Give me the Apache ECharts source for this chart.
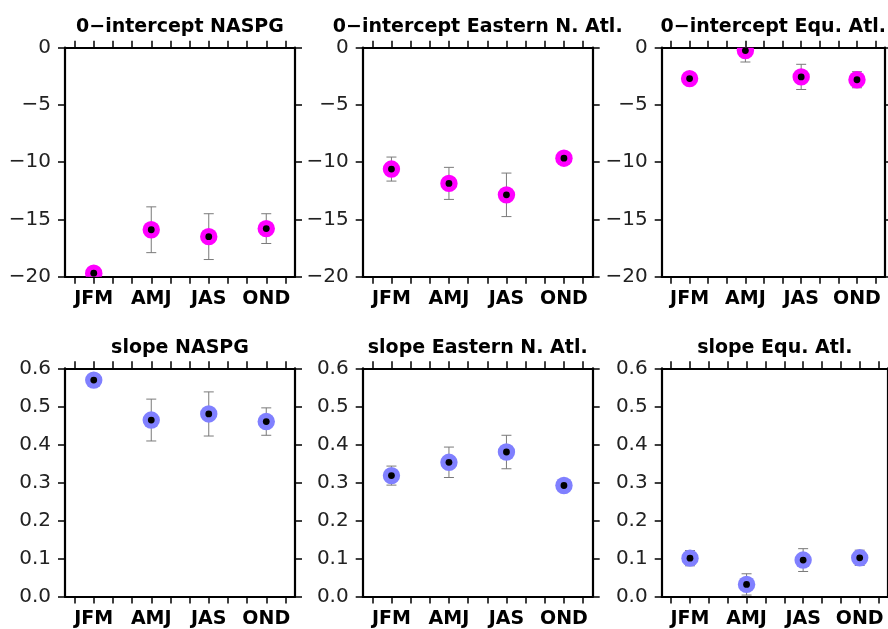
<!DOCTYPE html>
<html lang="en">
<head>
<meta charset="utf-8">
<title>0-intercept / slope by season</title>
<script src="https://cdn.jsdelivr.net/npm/echarts@6/dist/echarts.min.js"></script>
<style>html,body{margin:0;padding:0;background:#fff;}</style>
</head>
<body>
<div id="chart" style="width:888px;height:629px;"></div>
<script>
// 12 month slots on the x axis, each season sits on its middle month
var months = ['Jan','Feb','Mar','Apr','May','Jun','Jul','Aug','Sep','Oct','Nov','Dec'];
var seasons = ['JFM','AMJ','JAS','OND'];
var seasonSlot = [1, 4, 7, 10];

var titles = ['0\u2212intercept NASPG', '0\u2212intercept Eastern N. Atl.', '0\u2212intercept Equ. Atl.',
              'slope NASPG', 'slope Eastern N. Atl.', 'slope Equ. Atl.'];

// intercepts (value, half error bar)
var icptNaspg    = [-19.7, -15.9, -16.5, -15.8];
var icptNaspgErr = [0.3, 2.0, 2.0, 1.3];
var icptEast     = [-10.6, -11.85, -12.85, -9.65];
var icptEastErr  = [1.05, 1.4, 1.9, 0.4];
var icptEqu      = [-2.7, -0.25, -2.55, -2.8];
var icptEquErr   = [0.5, 1.0, 1.1, 0.7];

// slopes
var slopeNaspg    = [0.569, 0.464, 0.480, 0.460];
var slopeNaspgErr = [0.01, 0.055, 0.058, 0.036];
var slopeEast     = [0.318, 0.353, 0.380, 0.292];
var slopeEastErr  = [0.025, 0.040, 0.044, 0.01];
var slopeEqu      = [0.101, 0.032, 0.096, 0.102];
var slopeEquErr   = [0.02, 0.028, 0.030, 0.02];

var values = [icptNaspg, icptEast, icptEqu, slopeNaspg, slopeEast, slopeEqu];
var errors = [icptNaspgErr, icptEastErr, icptEquErr, slopeNaspgErr, slopeEastErr, slopeEquErr];

var gridLeft = [65, 362.7, 661.7];
var gridTop = [47.7, 368.3];
var gridH = [229, 228.3];
var gridW = 230;

var FONT = 'DejaVu Sans';

function renderDot(color) {
  return function (params, api) {
    var x = api.value(0), y = api.value(1), e = api.value(2);
    var c = api.coord([x, y]);
    var hi = api.coord([x, y + e]);
    var lo = api.coord([x, y - e]);
    var cap = 5;
    var bar = {stroke: '#7a7a7a', lineWidth: 1};
    return {
      type: 'group',
      children: [
        {type: 'line', shape: {x1: c[0], y1: hi[1], x2: c[0], y2: lo[1]}, style: bar},
        {type: 'line', shape: {x1: c[0] - cap, y1: hi[1], x2: c[0] + cap, y2: hi[1]}, style: bar},
        {type: 'line', shape: {x1: c[0] - cap, y1: lo[1], x2: c[0] + cap, y2: lo[1]}, style: bar},
        {type: 'circle', shape: {cx: c[0], cy: c[1], r: 8.7}, style: {fill: color}},
        {type: 'circle', shape: {cx: c[0], cy: c[1], r: 3.4}, style: {fill: '#000'}}
      ]
    };
  };
}

var grids = [], xAxes = [], yAxes = [], series = [];
var lineSt = {color: '#000', width: 2.2};
var tickSt = {color: '#000', width: 1.5};

for (var p = 0; p < 6; p++) {
  var row = Math.floor(p / 3), col = p % 3;
  grids.push({left: gridLeft[col], top: gridTop[row], width: gridW, height: gridH[row]});

  // bottom axis with season labels
  xAxes.push({
    type: 'category', gridIndex: p, data: months, position: 'bottom', boundaryGap: true,
    axisLine: {show: true, onZero: false, lineStyle: lineSt},
    axisTick: {show: true, alignWithLabel: true, interval: 0, length: 7, lineStyle: tickSt},
    axisLabel: {
      interval: 0, margin: 13, color: '#000', fontFamily: FONT, fontWeight: 'bold', fontSize: 19,
      formatter: function (v, idx) {
        var k = seasonSlot.indexOf(idx);
        return k >= 0 ? seasons[k] : '';
      }
    },
    splitLine: {show: false}
  });
  // mirrored top axis carries the panel title
  xAxes.push({
    type: 'category', gridIndex: p, data: months, position: 'top', boundaryGap: true,
    axisLine: {show: true, onZero: false, lineStyle: lineSt},
    axisTick: {show: true, alignWithLabel: true, interval: 0, length: 7, lineStyle: tickSt},
    axisLabel: {show: false},
    splitLine: {show: false},
    name: titles[p], nameLocation: 'middle', nameGap: 11,
    nameTextStyle: {color: '#000', fontFamily: FONT, fontWeight: 'bold', fontSize: 19}
  });

  var yBase = row === 0
    ? {min: -20, max: 0, interval: 5, fmt: function (v) { return String(v).replace('-', '\u2212'); }}
    : {min: 0, max: 0.6, interval: 0.1, fmt: function (v) { return v.toFixed(1); }};

  yAxes.push({
    type: 'value', gridIndex: p, position: 'left', min: yBase.min, max: yBase.max, interval: yBase.interval,
    axisLine: {show: true, onZero: false, lineStyle: lineSt},
    axisTick: {show: true, length: 7, lineStyle: tickSt},
    axisLabel: {margin: 14, color: '#222', fontFamily: FONT, fontSize: 20, formatter: yBase.fmt},
    splitLine: {show: false}
  });
  yAxes.push({
    type: 'value', gridIndex: p, position: 'right', min: yBase.min, max: yBase.max, interval: yBase.interval,
    axisLine: {show: true, onZero: false, lineStyle: lineSt},
    axisTick: {show: true, length: 7, lineStyle: tickSt},
    axisLabel: {show: false},
    splitLine: {show: false}
  });

  var pts = seasonSlot.map(function (s, i) { return [s, values[p][i], errors[p][i]]; });
  series.push({
    type: 'custom', xAxisIndex: 2 * p, yAxisIndex: 2 * p, clip: true,
    renderItem: renderDot(row === 0 ? '#ff00ff' : '#8080ff'),
    encode: {x: 0, y: 1},
    data: pts
  });
}

var chart = echarts.init(document.getElementById('chart'));
chart.setOption({
  animation: false,
  backgroundColor: '#fff',
  grid: grids,
  xAxis: xAxes,
  yAxis: yAxes,
  series: series
});
</script>
</body>
</html>
